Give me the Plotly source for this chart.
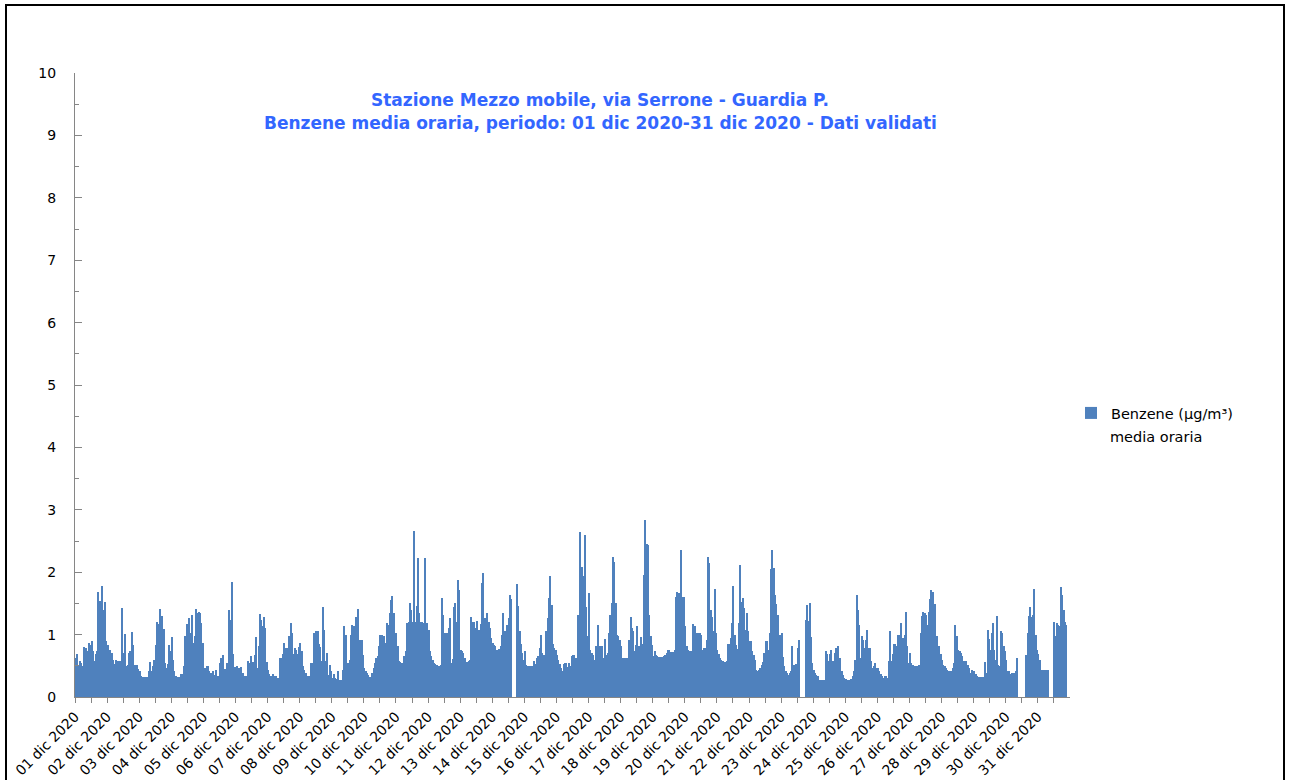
import plotly.graph_objects as go

# Hourly benzene values (µg/m³), one list per day of December 2020 (None = missing)
d01 = [0.62,0.69,0.5,0.58,0.55,0.5,0.8,0.7,0.78,0.73,0.86,0.83,0.9,0.73,0.58,0.69,0.73,1.68,1.54,1.39,1.78,1.39,1.52,0.89]
d02 = [0.83,0.67,0.75,0.71,0.59,0.53,0.6,0.46,0.57,0.58,0.41,1.43,0.71,1.01,0.49,0.51,0.71,0.73,1.04,0.83,0.51,0.51,0.51,0.45]
d03 = [0.41,0.33,0.32,0.32,0.32,0.32,0.32,0.41,0.56,0.41,0.5,0.59,0.84,1.2,1.17,1.41,1.1,1.3,1.09,0.54,0.46,0.53,0.84,0.73]
d04 = [0.96,0.59,0.41,0.34,0.32,0.32,0.32,0.37,0.37,0.5,0.98,1.17,1.17,1.26,1.02,1.31,0.86,0.97,1.41,1.34,1.37,1.34,1.19,0.86]
d05 = [0.46,0.46,0.5,0.5,0.41,0.38,0.38,0.41,0.35,0.43,0.34,0.34,0.55,0.62,0.67,0.43,0.45,0.55,0.55,1.39,1.23,1.85,0.69,0.48]
d06 = [0.48,0.5,0.47,0.46,0.48,0.38,0.3,0.34,0.34,0.58,0.54,0.65,0.56,0.56,0.67,0.96,0.46,0.82,1.33,1.24,1.14,1.29,1.1,0.56]
d07 = [0.43,0.37,0.33,0.33,0.37,0.33,0.33,0.3,0.3,0.62,0.62,0.69,0.86,0.78,0.78,0.67,0.97,1.19,1.03,0.69,0.78,0.75,0.69,0.8]
d08 = [0.86,0.73,0.49,0.43,0.38,0.33,0.33,0.33,0.55,0.55,1.02,0.85,1.06,1.06,0.85,0.8,0.57,1.45,1.08,0.58,0.71,0.35,0.51,0.41]
d09 = [0.3,0.37,0.3,0.29,0.41,0.27,0.27,0.27,0.43,1.13,0.99,0.46,0.55,0.6,0.99,1.15,1.13,1.02,1.28,1.41,0.82,0.91,0.91,0.67]
d10 = [0.46,0.42,0.39,0.35,0.32,0.32,0.38,0.46,0.54,0.62,0.65,0.81,0.99,0.99,0.98,0.97,0.86,1.19,1.15,1.34,1.55,1.62,1.34,0.94]
d11 = [1.03,0.81,0.57,0.56,0.54,0.54,0.65,0.73,1.18,1.21,1.5,1.4,1.21,2.66,1.21,1.46,2.22,1.34,1.21,1.21,1.19,2.22,1.19,1.19]
d12 = [1.07,0.73,0.65,0.6,0.54,0.53,0.51,0.41,0.5,0.51,1.58,1.32,1.03,0.98,1.02,1.1,1.26,0.54,0.61,1.44,1.51,1.21,1.88,1.71]
d13 = [0.75,0.73,0.7,0.62,0.56,0.56,0.58,0.6,1.28,1.21,1.21,1.11,1.22,0.99,1.08,1.17,1.82,1.98,1.26,1.24,1.34,1.21,1.1,0.94]
d14 = [0.86,0.83,0.81,0.75,0.73,0.77,0.81,0.99,1.34,1.05,1.02,1.15,1.26,1.63,1.57,None,None,None,1.81,1.46,1.05,0.85,0.7,0.6]
d15 = [0.73,0.51,0.5,0.5,0.5,0.5,0.5,0.58,0.53,0.62,0.66,0.79,0.99,0.7,0.67,0.59,1.06,1.26,1.58,1.94,1.47,0.85,0.78,0.76]
d16 = [0.67,0.6,0.53,0.46,0.41,0.53,0.54,0.54,0.48,0.54,0.49,0.65,0.67,0.67,0.62,0.62,1.32,2.64,1.78,2.09,1.94,2.6,1.45,0.97]
d17 = [1.67,0.75,0.71,0.67,0.6,0.82,0.62,1.15,0.82,0.81,0.82,0.62,0.93,0.67,0.71,1.03,1.31,1.5,2.24,2.17,1.5,0.99,0.98,0.92]
d18 = [0.82,0.62,0.62,0.62,0.62,0.62,0.92,1.28,1.1,1.05,0.74,0.83,1.13,0.82,0.82,0.96,0.85,1.96,2.83,2.46,2.43,1.31,0.97,0.83]
d19 = [0.65,0.73,0.67,0.65,0.64,0.64,0.64,0.64,0.66,0.67,0.71,0.75,0.75,0.72,0.72,0.72,0.75,1.61,1.68,1.66,1.61,2.36,1.61,1.61]
d20 = [1.14,0.81,0.75,0.73,0.73,0.7,1.17,1.13,0.91,1.03,1.02,1.02,0.99,0.76,0.78,0.78,0.92,2.24,2.15,1.39,1.29,1.05,1.73,1.03]
d21 = [0.76,0.69,0.62,0.6,0.58,0.56,0.56,0.57,0.85,0.85,0.95,1.19,1.78,0.99,0.83,0.77,1.19,2.12,1.53,1.58,1.42,1.07,1.34,1.06]
d22 = [0.9,0.9,0.73,0.67,0.6,0.44,0.42,0.43,0.46,0.51,0.56,0.71,0.89,0.9,0.76,1.02,2.05,2.35,2.06,1.63,1.49,1.31,0.99,1.0]
d23 = [1.03,0.64,0.49,0.41,0.38,0.35,0.39,0.42,0.81,0.52,0.52,0.53,0.78,0.91,None,None,None,None,1.23,1.47,1.22,1.51,0.96,0.54]
d24 = [0.43,0.38,0.35,0.33,0.28,0.28,0.28,0.28,0.28,0.74,0.69,0.57,0.69,0.75,0.57,0.57,0.71,0.78,0.82,0.62,0.62,0.41,0.35,0.3]
d25 = [0.29,0.27,0.27,0.28,0.29,0.34,0.41,0.6,1.63,1.39,1.15,0.62,0.98,0.91,0.78,0.92,1.08,0.78,0.78,0.57,0.46,0.5,0.54,0.46]
d26 = [0.46,0.41,0.37,0.33,0.3,0.34,0.33,0.3,0.58,1.06,0.58,0.69,0.85,0.85,0.82,0.99,0.99,1.19,0.82,0.94,0.99,1.37,0.81,0.54]
d27 = [0.71,0.54,0.51,0.43,0.49,0.5,0.5,0.51,1.03,1.3,1.37,1.35,1.31,1.15,1.37,1.57,1.71,1.69,1.3,1.49,0.98,0.82,0.81,0.69]
d28 = [0.59,0.51,0.49,0.46,0.43,0.41,0.41,0.42,0.46,0.54,1.15,0.98,0.75,0.74,0.7,0.66,0.57,0.58,0.58,0.51,0.46,0.39,0.44,0.41]
d29 = [0.41,0.37,0.34,0.32,0.32,0.32,0.32,0.32,0.56,0.38,1.08,0.93,0.75,1.02,1.19,0.75,0.6,1.3,0.51,0.5,1.06,1.02,0.81,0.73]
d30 = [0.6,0.42,0.41,0.37,0.39,0.38,0.38,0.41,0.62,None,None,None,None,None,None,0.67,1.02,1.3,1.44,1.28,1.31,1.73,0.99,0.76]
d31 = [0.69,0.59,0.43,0.43,0.43,0.43,0.43,0.43,None,None,None,None,1.2,0.97,1.19,1.15,1.13,1.76,1.63,1.4,1.21,1.15,None,None]

day_labels = ["01 dic 2020", "02 dic 2020", "03 dic 2020", "04 dic 2020", "05 dic 2020",
              "06 dic 2020", "07 dic 2020", "08 dic 2020", "09 dic 2020", "10 dic 2020",
              "11 dic 2020", "12 dic 2020", "13 dic 2020", "14 dic 2020", "15 dic 2020",
              "16 dic 2020", "17 dic 2020", "18 dic 2020", "19 dic 2020", "20 dic 2020",
              "21 dic 2020", "22 dic 2020", "23 dic 2020", "24 dic 2020", "25 dic 2020",
              "26 dic 2020", "27 dic 2020", "28 dic 2020", "29 dic 2020", "30 dic 2020",
              "31 dic 2020"]

title_line1 = "Stazione Mezzo mobile, via Serrone - Guardia P."
title_line2 = "Benzene media oraria, periodo: 01 dic 2020-31 dic 2020 - Dati validati"
series_name = "Benzene (µg/m³)"
series_name2 = "media oraria"

days = [d01, d02, d03, d04, d05, d06, d07, d08, d09, d10, d11, d12, d13, d14, d15, d16,
        d17, d18, d19, d20, d21, d22, d23, d24, d25, d26, d27, d28, d29, d30, d31]
values = [v for d in days for v in d]
hours = list(range(len(values)))

# Plot-area geometry (pixels)
W, H = 1290, 780
L, R, T, B = 75, 1070, 73, 697


def px(x):
    return (x - L) / (R - L)


def py(y):
    return (B - y) / (B - T)


BAR = "#4F81BD"
AX = "#868686"
TITLE = "#3366FF"
FONT = "DejaVu Sans"

fig = go.Figure()
fig.add_trace(go.Bar(
    x=hours, y=values, name=series_name,
    marker=dict(color=BAR, line=dict(width=0)),
    width=1.0,
))

tickvals = [-0.5 + 12 * k for k in range(62)]
ticktext = []
for k in range(62):
    ticktext.append(day_labels[k // 2] if k % 2 == 0 else "")

fig.update_layout(
    width=W, height=H,
    margin=dict(l=L, r=W - R, t=T, b=H - B, pad=0, autoexpand=False),
    paper_bgcolor="white", plot_bgcolor="white",
    bargap=0,
    font=dict(family=FONT, color="black", size=14),
    showlegend=True,
    legend=dict(x=px(1071), xanchor="left", y=py(397), yanchor="top",
                font=dict(family=FONT, size=14.5, color="black"),
                bgcolor="rgba(0,0,0,0)", itemwidth=30),
    xaxis=dict(
        range=[-0.5, len(values) - 0.5],
        tickmode="array", tickvals=tickvals, ticktext=ticktext,
        tickangle=-45, ticks="outside", ticklen=5, tickcolor=AX, tickwidth=1,
        showline=True, linecolor=AX, linewidth=1,
        showgrid=False, zeroline=False, automargin=False,
        tickfont=dict(family=FONT, size=14, color="black"),
    ),
    yaxis=dict(
        range=[0, 10], tickmode="linear", tick0=0, dtick=1,
        ticks="inside", ticklen=7, tickcolor=AX, tickwidth=1,
        minor=dict(dtick=0.5, ticks="inside", ticklen=4, tickcolor=AX, tickwidth=1),
        showline=True, linecolor=AX, linewidth=1,
        showgrid=False, zeroline=False, automargin=False,
        tickfont=dict(family=FONT, size=14, color="black"),
        ticklabelstandoff=15,
    ),
    annotations=[
        dict(text="<b>" + title_line1 + "</b>", x=px(600), y=py(100), xref="paper", yref="paper",
             xanchor="center", yanchor="middle", showarrow=False,
             font=dict(family=FONT, size=17, color=TITLE)),
        dict(text="<b>" + title_line2 + "</b>", x=px(600), y=py(123), xref="paper", yref="paper",
             xanchor="center", yanchor="middle", showarrow=False,
             font=dict(family=FONT, size=17, color=TITLE)),
        dict(text=series_name2, x=px(1108), y=py(437), xref="paper", yref="paper",
             xanchor="left", yanchor="middle", showarrow=False,
             font=dict(family=FONT, size=14.5, color="black")),
    ],
    shapes=[
        dict(type="rect", xref="paper", yref="paper",
             x0=px(6), x1=px(1284), y0=py(782), y1=py(5),
             line=dict(color="black", width=2), fillcolor="rgba(0,0,0,0)", layer="above"),
    ],
)

# remove the default page margin so the figure sits at the window origin
fig.write_html("out.html", config={"displayModeBar": False},
               post_script="document.body.style.margin='0';")
